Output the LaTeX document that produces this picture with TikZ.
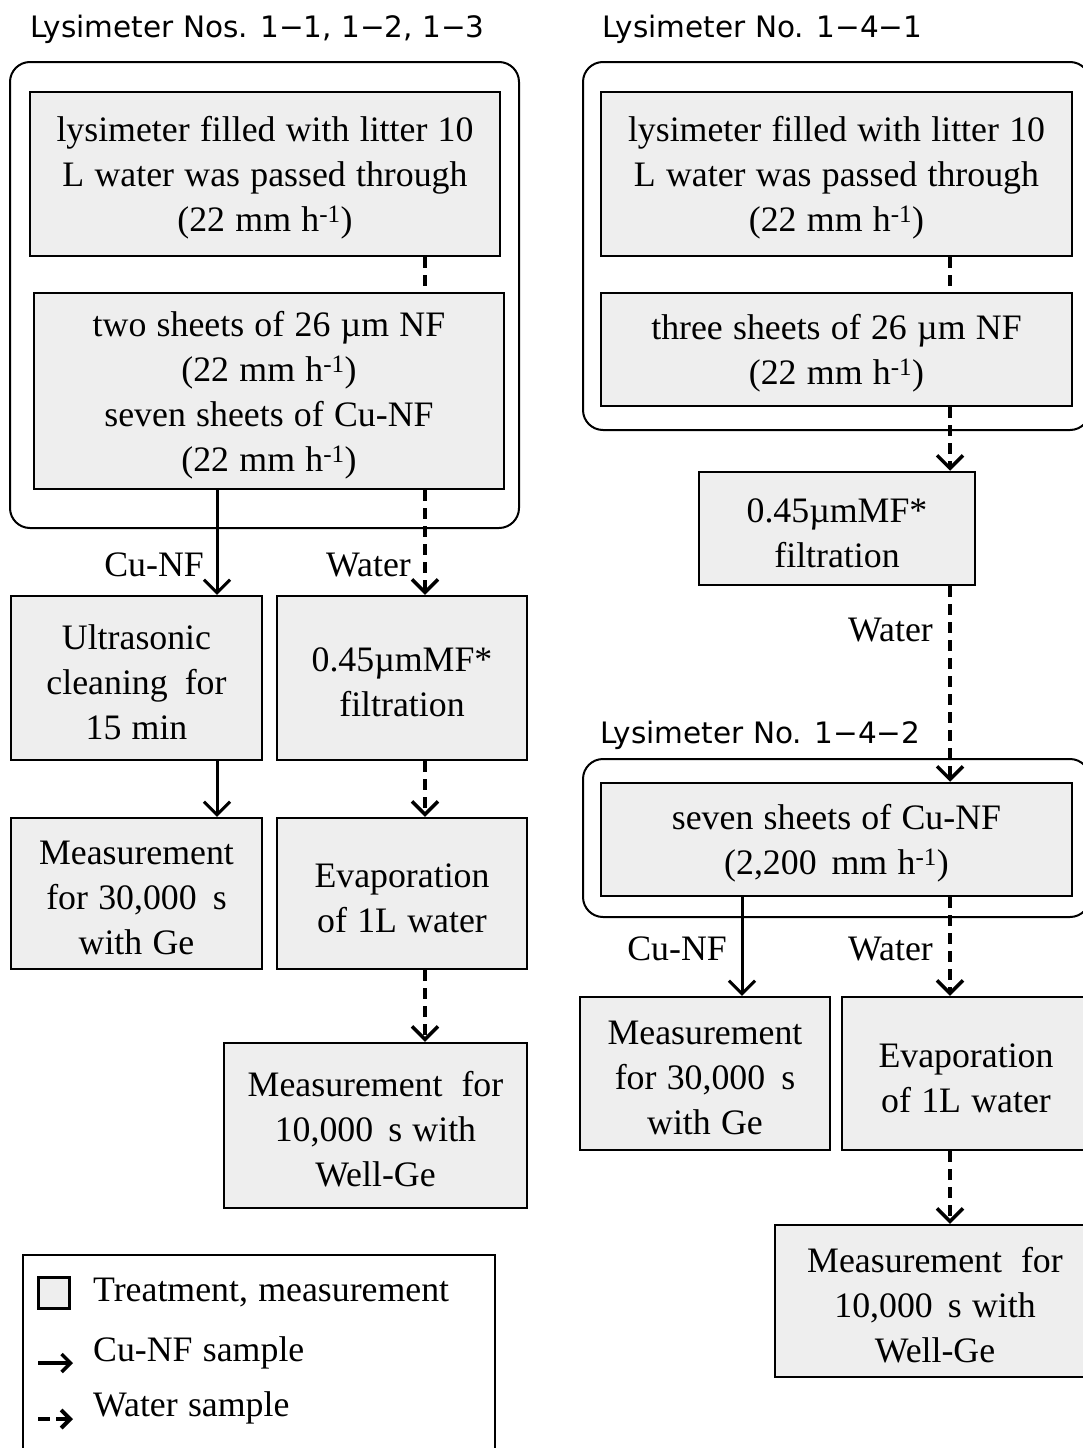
\documentclass[tikz,border=0pt]{standalone}
\usepackage{fontspec}
\setmainfont{Liberation Serif}[WordSpace=1.15]
\newfontfamily\hdfont{DejaVu Sans}
\usetikzlibrary{arrows.meta,calc}
\definecolor{boxgray}{HTML}{EEEEEE}
\newcommand{\wsp}[1]{\hspace{#1pt}}
\newcommand{\tp}{\rule{0pt}{33pt}}
\tikzset{
  proc/.style={draw, fill=boxgray, line width=2.5pt, align=center, inner sep=0pt,
    font=\fontsize{35.8}{45}\selectfont},
  frame/.style={draw, line width=2pt, rounded corners=20pt},
  hdr/.style={anchor=base west, inner sep=0pt, font=\hdfont\fontsize{29.5}{36}\selectfont},
  lbl/.style={anchor=east, inner sep=0pt, font=\fontsize{35.8}{45}\selectfont},
  legtxt/.style={anchor=west, inner sep=0pt, font=\fontsize{35.8}{45}\selectfont},
  cuarrow/.style={line width=3pt, -{Straight Barb[length=13pt,width=26pt]}},
  wtarrow/.style={line width=4pt, dash pattern=on 11pt off 7pt, -{Straight Barb[length=13pt,width=26pt,line width=3.5pt]}},
  wtline/.style={line width=4pt, dash pattern=on 11pt off 7pt},
}
\begin{document}
\begin{tikzpicture}[x=1pt,y=-1pt]
\useasboundingbox (0,0) rectangle (1083,1448);

% ---------- left column ----------
\node[hdr] (hL) at (30,37) {Lysimeter Nos. 1−1, 1−2, 1−3};
\draw[frame] (10,62) rectangle (519,528);
\node[proc, minimum width=470pt, minimum height=164pt] (A1) at (265,174)
  {\tp lysimeter filled with litter 10\\L water was passed through\\(22 mm h\textsuperscript{-1})};
\node[proc, minimum width=470pt, minimum height=196pt] (A2) at (269,391)
  {\tp two sheets of 26 µm NF\\(22 mm h\textsuperscript{-1})\\seven sheets of Cu-NF\\(22 mm h\textsuperscript{-1})};
\node[proc, minimum width=251pt, minimum height=164pt] (A3) at (136.5,678)
  {\tp Ultrasonic\\cleaning\wsp{17}for\\15 min};
\node[proc, minimum width=250pt, minimum height=164pt] (A4) at (402,678)
  {\tp 0.45µmMF*\\filtration};
\node[proc, minimum width=251pt, minimum height=151pt] (A5) at (136.5,893.5)
  {\tp Measurement\\for 30,000\wsp{16}s\\with Ge};
\node[proc, minimum width=250pt, minimum height=151pt] (A6) at (402,893.5)
  {\tp Evaporation\\of 1L water};
\node[proc, minimum width=303pt, minimum height=165pt] (A7) at (375.5,1125.5)
  {\tp Measurement\wsp{19}for\\10,000\wsp{15}s with\\Well-Ge};

\coordinate (xc) at (217,0);
\coordinate (xw) at (425,0);
\draw[wtline] (A1.south -| xw) -- (A2.north -| xw);
\draw[cuarrow] (A2.south -| xc) -- (A3.north -| xc);
\draw[wtarrow] (A2.south -| xw) -- (A4.north -| xw);
\draw[cuarrow] (A3.south -| xc) -- (A5.north -| xc);
\draw[wtarrow] (A4.south -| xw) -- (A6.north -| xw);
\draw[wtarrow] (A6.south -| xw) -- (A7.north -| xw);
\node[lbl] (lc1) at (204,565) {Cu-NF};
\node[lbl] (lw1) at (411,565) {Water};

% legend
\draw[line width=2pt] (23,1460) -- (23,1255) -- (495,1255) -- (495,1460);
\node[draw, fill=boxgray, line width=3pt, minimum size=31pt, inner sep=0pt] (lg1) at (53.5,1292.5) {};
\node[legtxt] (lt1) at (93,1293) {Treatment, measurement};
\node[legtxt] (lt2) at (93,1353) {Cu-NF sample};
\node[legtxt] (lt3) at (93,1408) {Water sample};
\coordinate (la1) at (38,1363);
\coordinate (lb1) at (73,1363);
\coordinate (la2) at (38,1419);
\coordinate (lb2) at (73,1419);
\draw[line width=3.5pt, -{Straight Barb[length=9pt,width=18pt,line width=3.5pt]}] (la1) -- (lb1);
\draw[line width=4.5pt, dash pattern=on 12pt off 6pt, -{Straight Barb[length=9pt,width=18pt,line width=4pt]}] (la2) -- (lb2);

% ---------- right column ----------
\node[hdr] (hR1) at (602,37) {Lysimeter No. 1−4−1};
\draw[frame] (583,62) rectangle (1090,430);
\node[proc, minimum width=471pt, minimum height=164pt] (B1) at (836.5,174)
  {\tp lysimeter filled with litter 10\\L water was passed through\\(22 mm h\textsuperscript{-1})};
\node[proc, minimum width=471pt, minimum height=113pt] (B2) at (836.5,349.5)
  {\tp three sheets of 26 µm NF\\(22 mm h\textsuperscript{-1})};
\node[proc, minimum width=276pt, minimum height=113pt] (B3) at (837,528.5)
  {\tp 0.45µmMF*\\filtration};

\node[hdr] (hR2) at (600,743) {Lysimeter No. 1−4−2};
\draw[frame] (583,759) rectangle (1090,917);
\node[proc, minimum width=471pt, minimum height=113pt] (B4) at (836.5,839.5)
  {\tp seven sheets of Cu-NF\\(2,200\wsp{15}mm h\textsuperscript{-1})};
\node[proc, minimum width=250pt, minimum height=153pt] (B5) at (705,1073.5)
  {\tp Measurement\\for 30,000\wsp{16}s\\with Ge};
\node[proc, minimum width=248pt, minimum height=153pt] (B6) at (966,1073.5)
  {\tp Evaporation\\of 1L water};
\node[proc, minimum width=320pt, minimum height=152pt] (B7) at (935,1301)
  {\tp Measurement\wsp{19}for\\10,000\wsp{15}s with\\Well-Ge};

\coordinate (xr) at (950,0);
\coordinate (xrc) at (742,0);
\draw[wtline] (B1.south -| xr) -- (B2.north -| xr);
\draw[wtarrow] (B2.south -| xr) -- (B3.north -| xr);
\draw[wtarrow] (B3.south -| xr) -- (B4.north -| xr);
\draw[cuarrow] (B4.south -| xrc) -- (B5.north -| xrc);
\draw[wtarrow] (B4.south -| xr) -- (B6.north -| xr);
\draw[wtarrow] (B6.south -| xr) -- (B7.north -| xr);
\node[lbl] (lw2) at (933,630) {Water};
\node[lbl] (lc2) at (727,949) {Cu-NF};
\node[lbl] (lw3) at (933,949) {Water};
\end{tikzpicture}
\end{document}
